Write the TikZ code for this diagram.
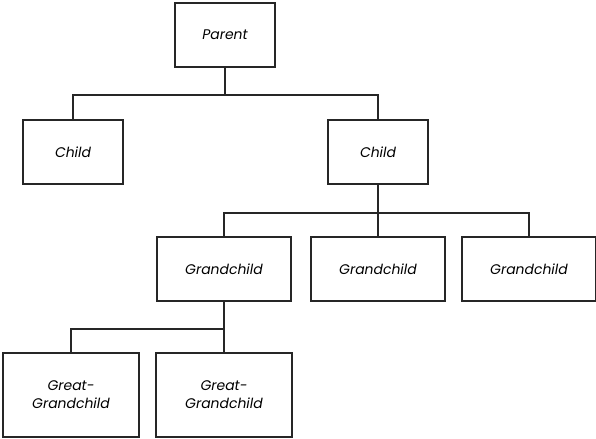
\documentclass[tikz,border=0pt]{standalone}
\usepackage{fontspec}
\setmainfont{Poppins}
\begin{document}
\begin{tikzpicture}[x=1bp, y=-1bp,
    member/.style={draw=black!85, line width=2bp, minimum height=64bp,
        inner sep=0pt, align=center, font=\itshape\fontsize{14}{18}\selectfont},
    link/.style={draw=black!85, line width=2bp}]

    \useasboundingbox (0,0) rectangle (596,439);

    % Parent and children
    \node[member, minimum width=100bp] (parent) at (225,35) {Parent};
    \node[member, minimum width=100bp] (childL) at (73,152) {Child};
    \node[member, minimum width=100bp] (childR) at (378,152) {Child};

    % Grandchildren
    \node[member, minimum width=134bp] (grandA) at (224,269) {Grandchild};
    \node[member, minimum width=134bp] (grandB) at (378,269) {Grandchild};
    \node[member, minimum width=134bp] (grandC) at (529,269) {Grandchild};

    % Great-grandchildren
    \node[member, minimum width=136bp, minimum height=84bp] (greatA) at (71,395) {Great-\\Grandchild};
    \node[member, minimum width=136bp, minimum height=84bp] (greatB) at (224,395) {Great-\\Grandchild};

    % Connectors
    \draw[link] (parent.south) -- +(0,27) -| (childL.north);
    \draw[link] (parent.south) -- +(0,27) -| (childR.north);
    \draw[link] (childR.south) -- +(0,28) -| (grandA.north);
    \draw[link] (childR.south) -- (grandB.north);
    \draw[link] (childR.south) -- +(0,28) -| (grandC.north);
    \draw[link] (grandA.south) -- +(0,27) -| (greatA.north);
    \draw[link] (grandA.south) -- (greatB.north);

\end{tikzpicture}
\end{document}
